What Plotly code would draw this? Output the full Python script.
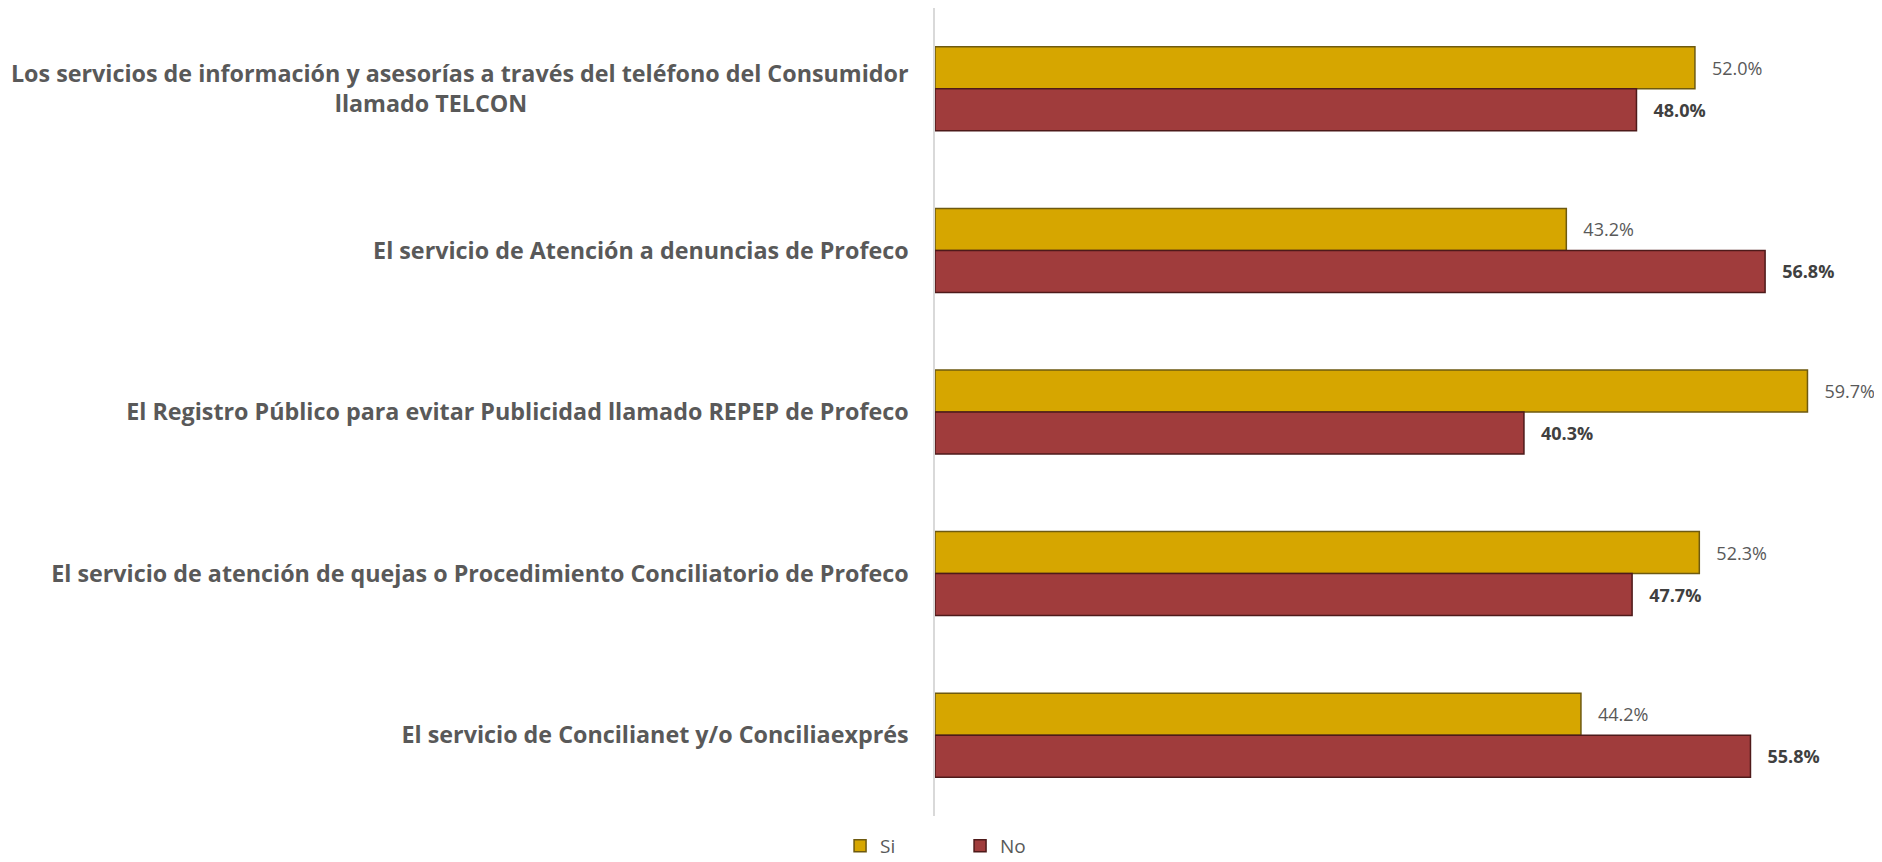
import plotly.graph_objects as go

categories = [
    "Los servicios de información y asesorías a través del teléfono del Consumidor<br>llamado TELCON" + "\u00a0" * 63,
    "El servicio de Atención a denuncias de Profeco",
    "El Registro Público para evitar Publicidad llamado REPEP de Profeco",
    "El servicio de atención de quejas o Procedimiento Conciliatorio de Profeco",
    "El servicio de Concilianet y/o Conciliaexprés",
]
si_values = [52.0, 43.2, 59.7, 52.3, 44.2]
no_values = [48.0, 56.8, 40.3, 47.7, 55.8]
series_names = ["Si", "No"]

FONT = "Open Sans"

fig = go.Figure()
fig.add_trace(go.Bar(
    y=categories, x=si_values, name=series_names[0], orientation="h",
    marker=dict(color="#D6A600", line=dict(color="#6E5A10", width=1.5)),
    texttemplate="\u00a0\u00a0\u00a0%{x:.1f}%", textposition="outside",
    textfont=dict(family=FONT, size=18, color="#595959"),
    cliponaxis=False,
))
fig.add_trace(go.Bar(
    y=categories, x=no_values, name=series_names[1], orientation="h",
    marker=dict(color="#A03C3C", line=dict(color="#4E1A1A", width=1.5)),
    texttemplate="\u00a0\u00a0\u00a0<b>%{x:.1f}%</b>", textposition="outside",
    textfont=dict(family=FONT, size=18, color="#404040"),
    cliponaxis=False,
))

fig.update_layout(
    width=1874, height=854,
    barmode="group", bargap=0.48, bargroupgap=0,
    paper_bgcolor="white", plot_bgcolor="rgba(0,0,0,0)",
    margin=dict(l=927, r=0, t=0, b=46),
    font=dict(family=FONT, color="#595959"),
    xaxis=dict(range=[0, 64.8], visible=False, fixedrange=True),
    yaxis=dict(autorange="reversed", showline=True, linecolor="#D9D9D9", linewidth=1.5,
               ticks="", showgrid=False, ticklabelstandoff=20,
               tickfont=dict(family=FONT, size=23.3, color="#595959", weight="bold")),
    legend=dict(orientation="h", x=0.444, xanchor="left", xref="container",
                y=(854 - 838) / 854, yanchor="middle", yref="container", entrywidth=75,
                font=dict(family=FONT, size=19, color="#595959"),
                traceorder="normal"),
    showlegend=True,
)
fig.write_html("out.html")
